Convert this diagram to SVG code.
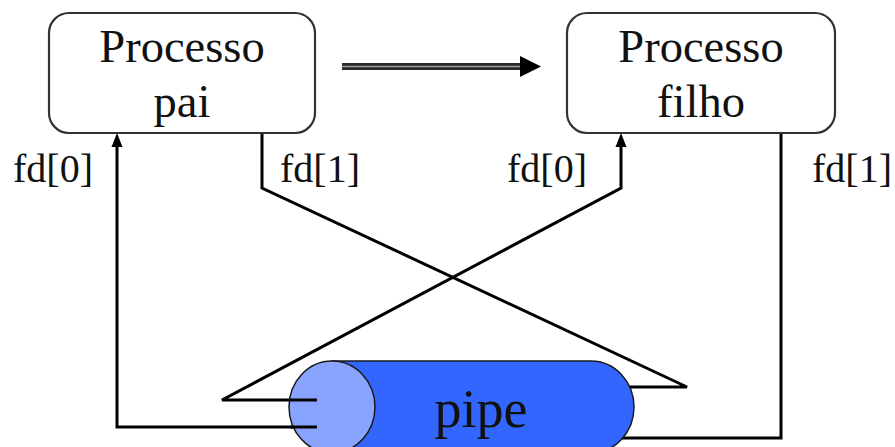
<svg xmlns="http://www.w3.org/2000/svg" width="895" height="447" viewBox="0 0 895 447">
  <style>
    .box { fill: #fff; stroke: #333; stroke-width: 2.2; }
    .title { font-family: "Liberation Serif", "Times New Roman", serif; font-size: 46.5px; fill: #111; text-anchor: middle; }
    .fd { font-family: "Liberation Serif", "Times New Roman", serif; font-size: 40px; fill: #111; }
    .wire { fill: none; stroke: #000; stroke-width: 3; stroke-linejoin: miter; }
    .pipe-body { fill: #3366ff; stroke: #1a1a1a; stroke-width: 1.5; }
    .pipe-end { fill: #88a4ff; stroke: #1a1a1a; stroke-width: 1.5; }
  </style>

  <rect width="895" height="447" fill="#fff"/>

  <!-- connectors: drawn first so the pipe covers their ends -->
  <g id="connectors">
    <!-- pai fd[0]: read end, from the pipe up into the parent -->
    <path class="wire" d="M317,427 L117,427 L117,147"/>
    <path d="M111.5,147 L117,133 L122.5,147 Z" fill="#000"/>
    <!-- pai fd[1]: write end, down into the right side of the pipe -->
    <path class="wire" d="M262,133 L262,188 L687,387 L620,387"/>
    <!-- filho fd[0]: read end, from the pipe up into the child -->
    <path class="wire" d="M317,400 L222,400 L621,188 L621,147"/>
    <path d="M615.5,147 L621,133 L626.5,147 Z" fill="#000"/>
    <!-- filho fd[1]: write end, down and back into the pipe -->
    <path class="wire" d="M781,133 L781,438 L610,438"/>
    <!-- fork arrow between the two processes -->
    <line x1="342" y1="66.5" x2="522" y2="66.5" stroke="#2a2a2a" stroke-width="7"/>
    <line x1="342" y1="66.5" x2="522" y2="66.5" stroke="#9a9a9a" stroke-width="1.6"/>
    <path d="M520,56 L541,66.5 L520,77 Z" fill="#000"/>
  </g>

  <g id="pipe">
    <path class="pipe-body" d="M332,361 L591,361 A43,46 0 0 1 591,453 L332,453 Z"/>
    <ellipse class="pipe-end" cx="332" cy="407" rx="43" ry="46"/>
    <!-- wire stubs entering the pipe mouth -->
    <line x1="290" y1="400" x2="317" y2="400" stroke="#000" stroke-width="3"/>
    <line x1="290" y1="427" x2="317" y2="427" stroke="#000" stroke-width="3"/>
    <text x="481" y="427" font-family="'Liberation Serif', 'Times New Roman', serif" font-size="54" fill="#111" text-anchor="middle">pipe</text>
  </g>

  <g id="pai">
    <rect class="box" x="49" y="13" width="266" height="120" rx="20" ry="20"/>
    <text class="title" x="182" y="62">Processo</text>
    <text class="title" x="182" y="117">pai</text>
  </g>

  <g id="filho">
    <rect class="box" x="567" y="13" width="268" height="120" rx="20" ry="20"/>
    <text class="title" x="701" y="62">Processo</text>
    <text class="title" x="701" y="117">filho</text>
  </g>

  <g id="labels">
    <text class="fd" x="13" y="182">fd[0]</text>
    <text class="fd" x="280" y="182">fd[1]</text>
    <text class="fd" x="507" y="182">fd[0]</text>
    <text class="fd" x="812" y="182">fd[1]</text>
  </g>
</svg>
